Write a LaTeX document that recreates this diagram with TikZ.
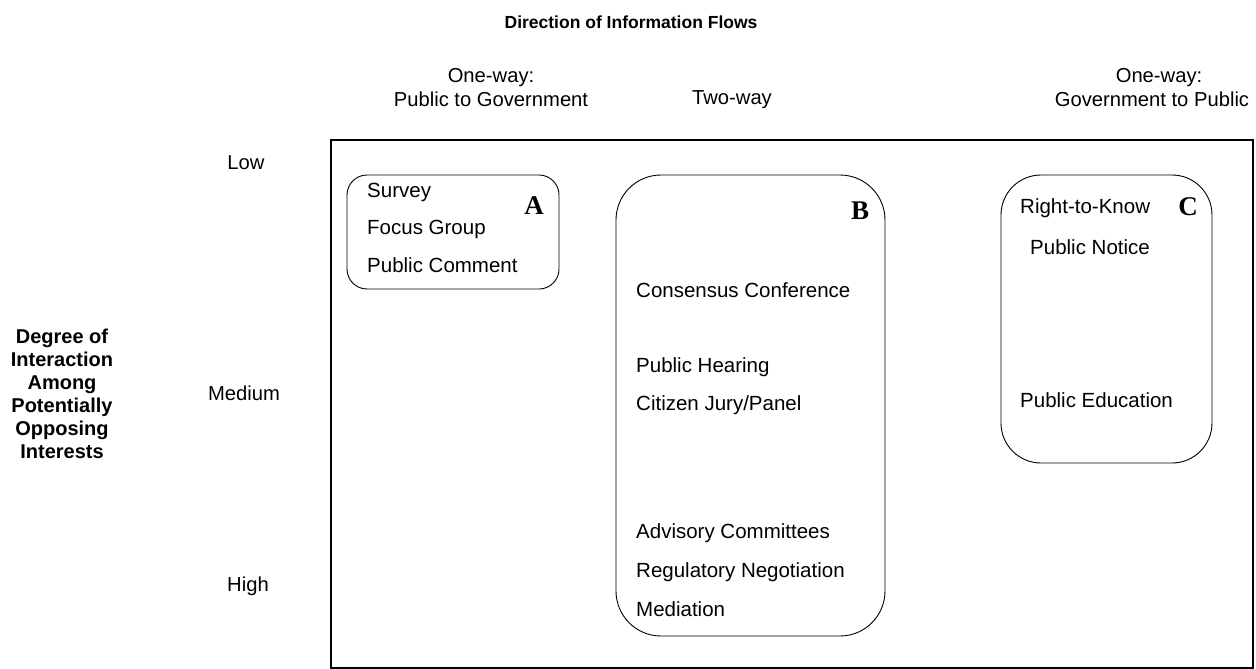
\documentclass[tikz,border=0pt]{standalone}
\usepackage{fontspec}
\setmainfont{Liberation Sans}
\newfontfamily\serifbold{Liberation Serif}
\begin{document}
\begin{tikzpicture}[x=1pt,y=-1pt,
  lbl/.style={font=\fontsize{20.5}{23}\selectfont, inner sep=0pt, anchor=west},
  hdr/.style={font=\fontsize{20.2}{24}\selectfont, inner sep=0pt, align=center},
  ttl/.style={font=\fontsize{17.5}{23}\selectfont\bfseries, inner sep=0pt, align=center},
  letter/.style={font=\fontsize{27}{30}\selectfont\serifbold\bfseries, inner sep=0pt},
  grp/.style={draw, line width=0.9pt, inner sep=0pt},
  frame/.style={draw, line width=1.8pt, inner sep=0pt}]
\useasboundingbox (0,0) rectangle (1256,669);
% outer frame
\node[frame, minimum width=922pt, minimum height=528pt] (frame) at (792,404) {};
% titles
\node[ttl] (top) at (631,22) {Direction of Information Flows};
\node[hdr] (h1) at (491,88) {One-way:\\Public to Government};
\node[hdr] (h2) at (732,100) {Two-way};
\node[hdr] (h3) at (1152,88) {\hspace*{14pt}One-way:\\Government to Public};
\node[ttl, font=\fontsize{20}{23}\selectfont\bfseries] (side) at (62,394) {Degree of\\Interaction\\Among\\Potentially\\Opposing\\Interests};
\node[hdr] (low) at (246,163) {Low};
\node[hdr] (med) at (244,393) {Medium};
\node[hdr] (high) at (248,586) {High};
% group boxes
\node[grp, rounded corners=20pt, minimum width=212pt, minimum height=114pt] (boxA) at (453,232) {};
\node[grp, rounded corners=45pt, minimum width=269pt, minimum height=461pt] (boxB) at (750.5,405.5) {};
\node[grp, rounded corners=40pt, minimum width=211pt, minimum height=288pt] (boxC) at (1106.5,319) {};
% box A
\node[lbl] (a1) at (367,192) {Survey};
\node[lbl] (a2) at (367,229) {Focus Group};
\node[lbl] (a3) at (367,265) {Public Comment};
\node[letter] (A) at (534,206) {A};
% box B
\node[letter] (B) at (860,211) {B};
\node[lbl] (b1) at (636,290) {Consensus Conference};
\node[lbl] (b2) at (636,367) {Public Hearing};
\node[lbl] (b3) at (636,405) {Citizen Jury/Panel};
\node[lbl] (b4) at (636,533) {Advisory Committees};
\node[lbl] (b5) at (636,572) {Regulatory Negotiation};
\node[lbl] (b6) at (636,609) {Mediation};
% box C
\node[lbl] (c1) at (1020,208) {Right-to-Know};
\node[letter] (C) at (1188,207) {C};
\node[lbl] (c2) at (1030,247) {Public Notice};
\node[lbl] (c3) at (1020,400) {Public Education};
\end{tikzpicture}
\end{document}
